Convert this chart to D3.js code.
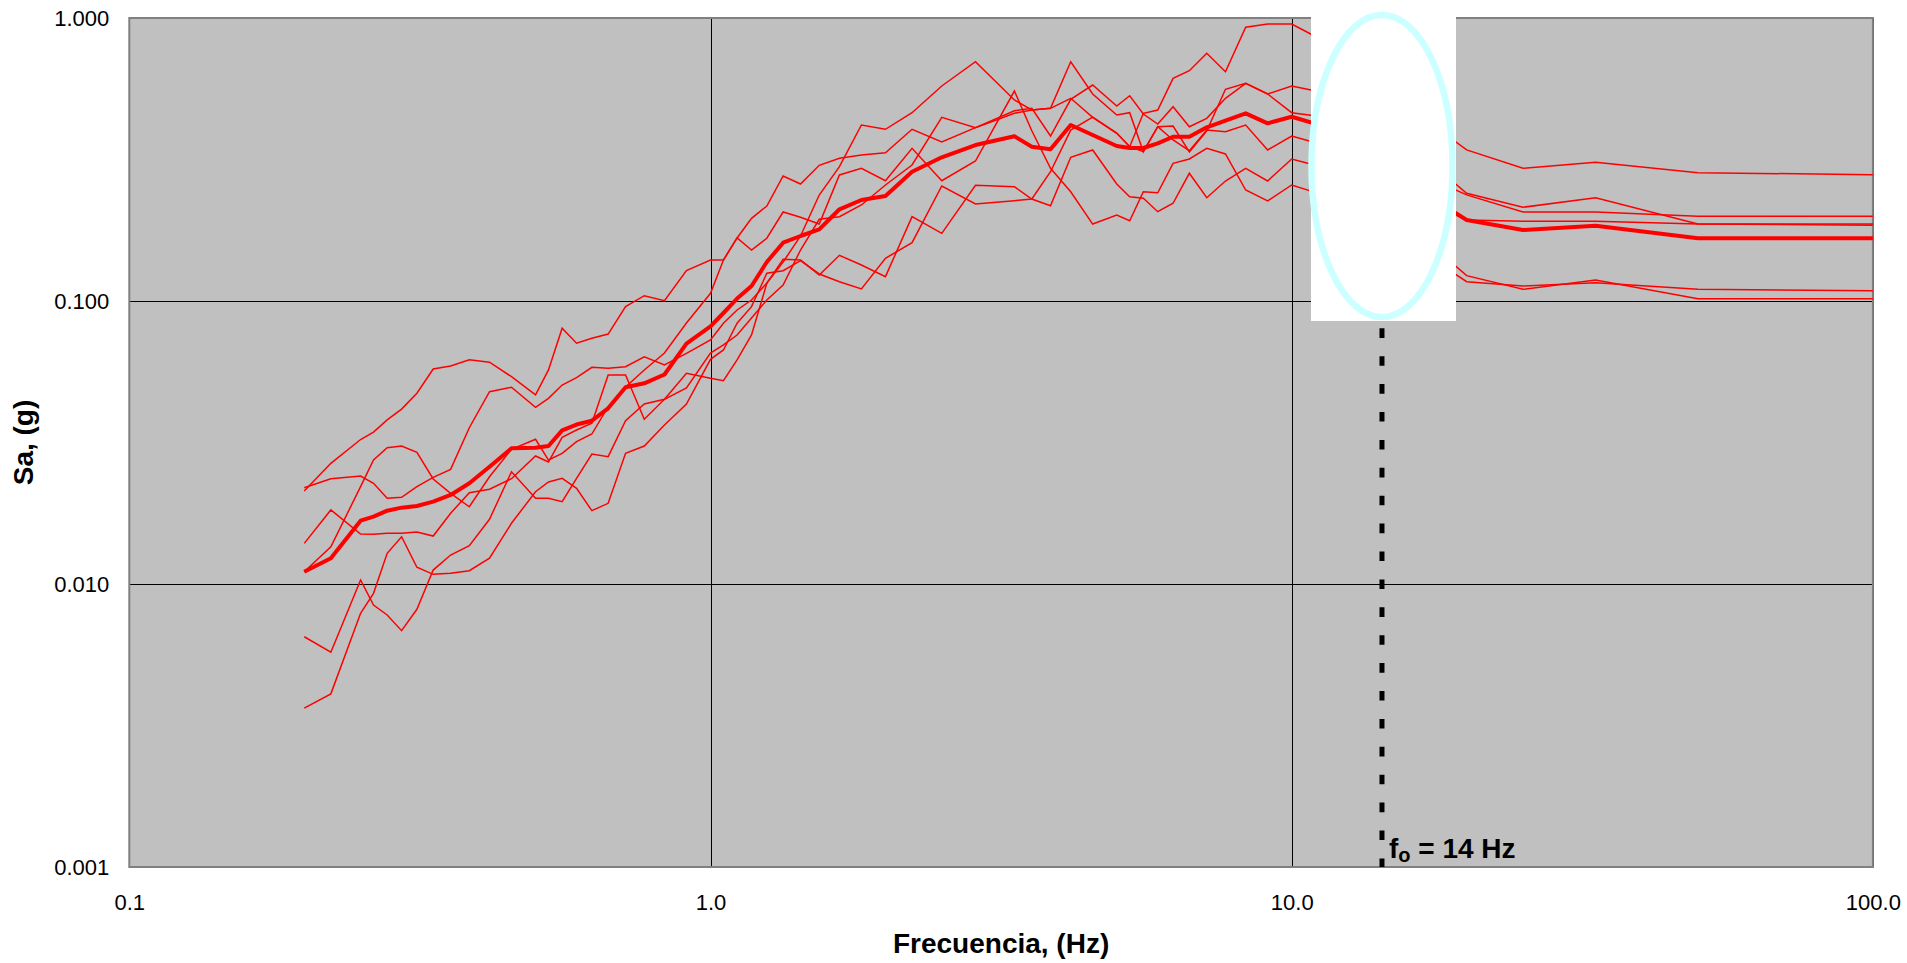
<!DOCTYPE html>
<html>
<head>
<meta charset="utf-8">
<title>Espectros de respuesta</title>
<script src="https://cdn.jsdelivr.net/npm/d3@7"></script>
<style>
body { margin:0; background:#fff; }
text { font-family: Arial, "Liberation Sans", sans-serif; }
.tick text { font-size:22px; fill:#000; }
.titulo { font-size:28px; font-weight:bold; fill:#000; }
</style>
</head>
<body>
<script>
// periodos (s) de los puntos de cada espectro, frecuencia = 1/T
var periodos = [5.0, 4.5, 4.0, 3.8, 3.6, 3.4, 3.2, 3.0, 2.8, 2.6, 2.4, 2.2, 2.0,
  1.9, 1.8, 1.7, 1.6, 1.5, 1.4, 1.3, 1.2, 1.1, 1.0,
  0.95, 0.9, 0.85, 0.8, 0.75, 0.7, 0.65, 0.6, 0.55,
  0.5, 0.45, 0.4, 0.35, 0.3,
  0.28, 0.26, 0.24, 0.22, 0.2,
  0.19, 0.18, 0.17, 0.16, 0.15, 0.14, 0.13, 0.12, 0.11, 0.1,
  0.09, 0.08, 0.07, 0.06,
  0.05, 0.04, 0.03, 0.02, 0.01];

// Sa (g) de cada registro
var sa1 = [0.0213, 0.0267, 0.0324, 0.0344, 0.0380, 0.0415, 0.0472, 0.0575, 0.0589, 0.0620, 0.0608, 0.0540, 0.0466,
  0.0571, 0.0801, 0.0709, 0.0738, 0.0764, 0.0955, 0.1044, 0.1002, 0.128, 0.1396,
  0.1396, 0.167, 0.1514, 0.1666, 0.2063, 0.1976, 0.187, 0.2788, 0.2943,
  0.2661, 0.3464, 0.2661, 0.3124, 0.552,
  0.3995, 0.2943, 0.2433, 0.187, 0.2013,
  0.1922, 0.2433, 0.2413, 0.3066, 0.3176, 0.3464, 0.3307, 0.2467, 0.2257, 0.2570,
  0.24, 0.21, 0.18, 0.15,
  0.117, 0.113, 0.1161, 0.110, 0.1088];
var sa2 = [0.02189, 0.02355, 0.02407, 0.02269, 0.02009, 0.02025, 0.02207, 0.02382, 0.02542, 0.03566, 0.0478, 0.04956, 0.0421,
  0.0453, 0.05048, 0.05358, 0.05831, 0.05784, 0.05859, 0.06355, 0.05942, 0.06533, 0.0728,
  0.08342, 0.09295, 0.1008, 0.1158, 0.1373, 0.1697, 0.2368, 0.2982, 0.4187,
  0.4044, 0.4628, 0.575, 0.7007, 0.5131,
  0.473, 0.4796, 0.7007, 0.5388, 0.4542,
  0.4628, 0.337, 0.4129, 0.3706, 0.3398, 0.4018, 0.3963, 0.4187, 0.3418, 0.3828,
  0.36, 0.32, 0.27, 0.23,
  0.1933, 0.1913, 0.1913, 0.187, 0.187];
var sa3 = [0.01392, 0.01827, 0.01502, 0.01498, 0.0151, 0.0151, 0.01526, 0.01477, 0.01778, 0.02102, 0.02161, 0.02355, 0.02833,
  0.02698, 0.03299, 0.035, 0.03697, 0.05477, 0.05477, 0.0382, 0.04494, 0.04927, 0.0655,
  0.06992, 0.07584, 0.0871, 0.1008, 0.1139, 0.1514, 0.1944, 0.1986, 0.2184,
  0.257, 0.3024, 0.4457, 0.4097, 0.4605,
  0.473, 0.4796, 0.5203, 0.4457, 0.3913,
  0.3509, 0.4605, 0.473, 0.6121, 0.6512, 0.7503, 0.6458, 0.9271, 0.952, 0.952,
  0.85, 0.7, 0.55, 0.45,
  0.3418, 0.2943, 0.309, 0.284, 0.2795];
var sa4 = [0.01105, 0.01354, 0.02207, 0.02742, 0.0303, 0.03073, 0.0292, 0.0235, 0.02091, 0.01875, 0.02394, 0.02992, 0.03246,
  0.02742, 0.02896, 0.03183, 0.03388, 0.04231, 0.04967, 0.05705, 0.0655, 0.08363, 0.1065,
  0.1396, 0.167, 0.196, 0.2166, 0.2765, 0.2591, 0.3016, 0.3194, 0.328,
  0.3342, 0.4044, 0.3646, 0.4097, 0.4703,
  0.4796, 0.3828, 0.516, 0.5797, 0.4887,
  0.5314, 0.4578, 0.4221, 0.4859, 0.4129, 0.4421, 0.5203, 0.5878, 0.5388, 0.4628,
  0.45, 0.40, 0.33, 0.28,
  0.2371, 0.2063, 0.2063, 0.1992, 0.1992];
var sa5 = [0.00651, 0.00574, 0.01033, 0.00843, 0.00777, 0.00684, 0.00814, 0.0112, 0.01266, 0.01365, 0.01693, 0.02493, 0.02009,
  0.02009, 0.01954, 0.02362, 0.0288, 0.02818, 0.03776, 0.04325, 0.04494, 0.05554, 0.05332,
  0.05229, 0.0619, 0.07584, 0.1155, 0.1404, 0.1396, 0.1236, 0.145, 0.134,
  0.1219, 0.1986, 0.1734, 0.2563, 0.2534,
  0.2293, 0.2171, 0.322, 0.3418, 0.2591,
  0.2337, 0.2306, 0.2068, 0.2215, 0.2827, 0.2317, 0.2655, 0.2943, 0.2655, 0.3176,
  0.30, 0.25, 0.20, 0.17,
  0.1229, 0.110, 0.1187, 0.1019, 0.1019];
var sa6 = [0.00364, 0.00409, 0.00788, 0.00927, 0.01284, 0.01469, 0.01146, 0.01082, 0.01091, 0.01114, 0.01233, 0.01639, 0.02119,
  0.02293, 0.02362, 0.02179, 0.01816, 0.01928, 0.02896, 0.03073, 0.03646, 0.04325, 0.06223,
  0.06713, 0.08342, 0.09548, 0.1253, 0.128, 0.1388, 0.1246, 0.117, 0.1103,
  0.1416, 0.1607, 0.2549, 0.2203, 0.2262,
  0.2293, 0.2863, 0.4018, 0.4468, 0.3923,
  0.3509, 0.337, 0.4129, 0.4153, 0.3362, 0.3995, 0.5598, 0.5878, 0.5388, 0.575,
  0.55, 0.48, 0.40, 0.33,
  0.2402, 0.2144, 0.2317, 0.187, 0.1853];
// espectro promedio (linea gruesa)
var saProm = [0.01105, 0.01233, 0.01674, 0.01729, 0.01816, 0.01861, 0.01887, 0.01954, 0.02064, 0.02269, 0.02597, 0.03016, 0.0303,
  0.03073, 0.0349, 0.0366, 0.03776, 0.04176, 0.04955, 0.05119, 0.055, 0.07065, 0.0814,
  0.0907, 0.102, 0.113, 0.1373, 0.1607, 0.1697, 0.1792, 0.2109, 0.2275,
  0.235, 0.2863, 0.322, 0.3558, 0.382,
  0.3509, 0.3436, 0.4187, 0.386, 0.3529,
  0.3472, 0.3472, 0.3607, 0.3806, 0.3806, 0.4109, 0.4336, 0.4605, 0.4245, 0.4479,
  0.42, 0.36, 0.30, 0.245,
  0.1933, 0.1782, 0.1845, 0.1666, 0.1666];

var xTicks = [0.1, 1, 10, 100];
var yTicks = [0.001, 0.01, 0.1, 1];
var fo = 14.3;          // donde va la linea punteada
var foTexto = " = 14 Hz";

var w = 1907, h = 963;
// limites del area de graficado (ojo: "top" es de window, no usar)
var pL = 129.3, pR = 1872.9, pT = 18, pB = 867;

var svg = d3.select("body").append("svg")
  .attr("width", w)
  .attr("height", h);

var x = d3.scaleLog().domain([0.1, 100]).range([pL, pR]);
var y = d3.scaleLog().domain([0.001, 1]).range([pB, pT]);

// fondo gris del area de graficado
svg.append("rect")
  .attr("x", pL).attr("y", pT)
  .attr("width", pR - pL).attr("height", pB - pT)
  .attr("fill", "#c0c0c0");

// rejilla
svg.selectAll(".gy").data(yTicks).enter().append("line")
  .attr("x1", pL).attr("x2", pR)
  .attr("y1", function(d){ return Math.round(y(d)) + 0.5; })
  .attr("y2", function(d){ return Math.round(y(d)) + 0.5; })
  .attr("stroke", "#000").attr("stroke-width", 1);
svg.selectAll(".gx").data(xTicks).enter().append("line")
  .attr("x1", function(d){ return Math.round(x(d)) + 0.5; })
  .attr("x2", function(d){ return Math.round(x(d)) + 0.5; })
  .attr("y1", pT).attr("y2", pB)
  .attr("stroke", "#000").attr("stroke-width", 1);

// borde
svg.append("rect")
  .attr("x", pL).attr("y", pT)
  .attr("width", pR - pL).attr("height", pB - pT)
  .attr("fill", "none")
  .attr("stroke", "#808080").attr("stroke-width", 2);

// ejes
svg.append("g")
  .attr("transform", "translate(" + pL + ",0)")
  .call(d3.axisLeft(y).tickValues(yTicks).tickFormat(d3.format(".3f")).tickSize(0).tickPadding(20))
  .call(function(g){ g.select(".domain").remove(); });

svg.append("g")
  .attr("transform", "translate(0," + pB + ")")
  .call(d3.axisBottom(x).tickValues(xTicks).tickFormat(d3.format(".1f")).tickSize(0).tickPadding(27))
  .call(function(g){ g.select(".domain").remove(); });

// espectros
var linea = d3.line()
  .x(function(d, i){ return x(1 / periodos[i]); })
  .y(function(d){ return y(d); });

var registros = [sa1, sa2, sa3, sa4, sa5, sa6];
svg.selectAll(".reg").data(registros).enter().append("path")
  .attr("class", "reg")
  .attr("d", linea)
  .attr("fill", "none")
  .attr("stroke", "#ff0000")
  .attr("stroke-width", 1.5);

svg.append("path")
  .datum(saProm)
  .attr("d", linea)
  .attr("fill", "none")
  .attr("stroke", "#ff0000")
  .attr("stroke-width", 4)
  .attr("stroke-linejoin", "round");

// recuadro blanco con el ovalo
svg.append("rect")
  .attr("x", 1311).attr("y", 4)
  .attr("width", 145).attr("height", 317)
  .attr("fill", "#fff");
svg.append("ellipse")
  .attr("cx", 1382).attr("cy", 166)
  .attr("rx", 70.5).attr("ry", 151)
  .attr("fill", "#fff")
  .attr("stroke", "#ccffff")
  .attr("stroke-width", 6.5);

// frecuencia fo
svg.append("line")
  .attr("x1", x(fo)).attr("x2", x(fo))
  .attr("y1", 328.3).attr("y2", pB)
  .attr("stroke", "#000")
  .attr("stroke-width", 5)
  .attr("stroke-dasharray", "9.6,18.3");

var lbl = svg.append("text")
  .attr("class", "titulo")
  .attr("x", x(fo) + 7)
  .attr("y", 858);
lbl.append("tspan").text("f");
lbl.append("tspan").attr("font-size", "20px").attr("dy", 4).text("o");
lbl.append("tspan").attr("dy", -4).text(foTexto);

// titulos de ejes
svg.append("text")
  .attr("class", "titulo")
  .attr("x", (pL + pR) / 2)
  .attr("y", 953)
  .attr("text-anchor", "middle")
  .text("Frecuencia, (Hz)");

svg.append("text")
  .attr("class", "titulo")
  .attr("transform", "translate(33," + (pT + pB) / 2 + ") rotate(-90)")
  .attr("text-anchor", "middle")
  .text("Sa, (g)");
</script>
</body>
</html>
